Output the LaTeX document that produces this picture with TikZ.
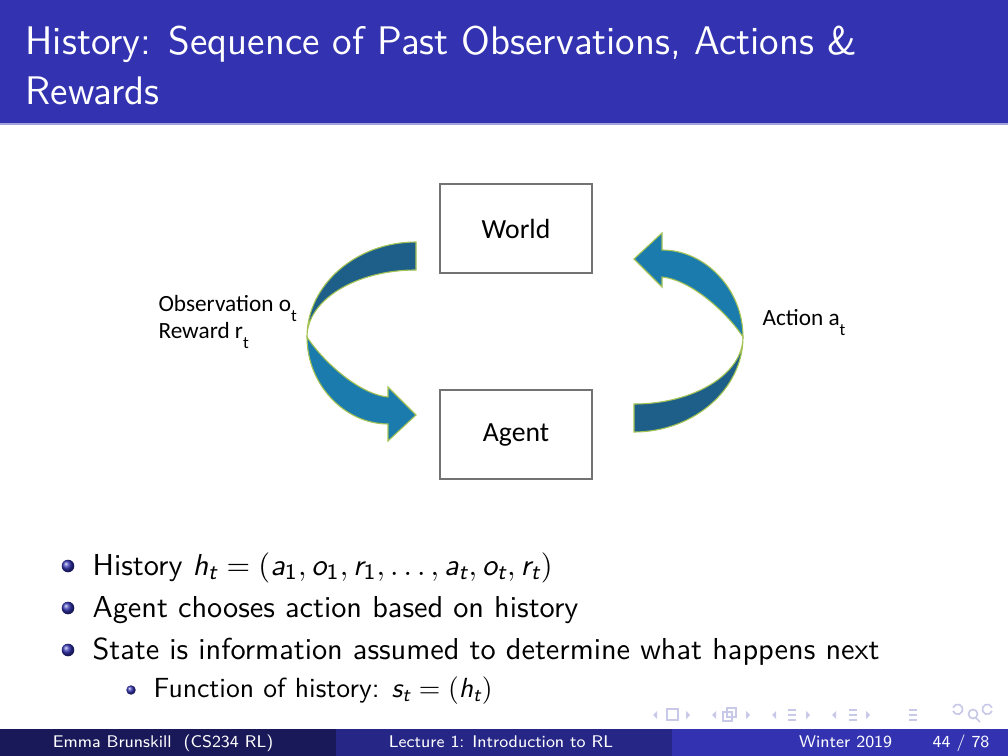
\documentclass[tikz,border=0pt]{standalone}
\usepackage{fontspec}
\usepackage{amsmath}
\usetikzlibrary{positioning, calc}
\newfontfamily\diafont{Carlito}
\definecolor{barblue}{RGB}{51,51,178}
\definecolor{footdark}{RGB}{25,25,89}
\definecolor{footmid}{RGB}{38,38,134}
\definecolor{swdark}{RGB}{29,95,136}
\definecolor{swlight}{RGB}{27,123,173}
\definecolor{swedge}{RGB}{165,195,85}
\definecolor{navgray}{RGB}{200,200,232}
\newcommand{\mv}[1]{\textsl{#1}}
\newcommand{\lsub}[1]{\raisebox{-0.9ex}{\fontsize{6.2}{7}\selectfont #1}}
\tikzstyle{box} = [rectangle, draw=black!55, line width=0.5pt, minimum width=19.3mm, minimum height=11.3mm, font=\diafont\fontsize{10}{12}\selectfont]
\tikzstyle{lbl} = [inner sep=0pt, font=\diafont\fontsize{8.4}{10}\selectfont]
\tikzstyle{titletext} = [inner sep=0pt, anchor=base west, text=white, font=\sffamily\fontsize{14.4}{18}\selectfont]
\tikzstyle{body} = [inner sep=0pt, anchor=base west, font=\sffamily\fontsize{10.95}{13.6}\selectfont]
\tikzstyle{subbody} = [body, font=\sffamily\fontsize{10}{12}\selectfont]
\tikzstyle{foot} = [inner sep=0pt, text=white, font=\sffamily\fontsize{6.1}{7}\selectfont]
\tikzstyle{bullet} = [circle, inner sep=0pt, minimum size=1.6mm, shade, ball color=barblue]
\tikzstyle{subbullet} = [bullet, minimum size=1.2mm]
\tikzstyle{swoosh} = [line width=0.4pt, draw=swedge]
\newcommand{\drawswoosh}{%
  \filldraw[swoosh, fill=swdark] (416,242) .. controls (356,242) and (307,285) .. (307,337)
    .. controls (307,300) and (356,270) .. (416,270) -- cycle;
  \filldraw[swoosh, fill=swlight] (307,337) .. controls (307,385) and (345,424) .. (388,424)
    -- (388,441) -- (416,415) -- (388,387) -- (388,397)
    .. controls (358,394) and (322,360) .. (307,337) -- cycle;}

\begin{document}
\begin{tikzpicture}[x=0.126984mm, y=-0.126984mm]
        \useasboundingbox (0,0) rectangle (1008,756);

        % Title bar
        \fill[barblue] (0,0) rectangle (1008,123);
        \fill[barblue!45] (0,123) rectangle (1008,125.5);
        \node (title1) [titletext] at (25,55) {History: Sequence of Past Observations, Actions \&};
        \node (title2) [titletext] at (25,105) {Rewards};

        % Boxes
        \node (world) [box] at (516,228.5) {World};
        \node (agent) [box, below=14.7mm of world] {Agent};

        % Labels
        \node (obs) [lbl, align=left, anchor=north west] at (158,294.5) {Observation o\lsub{t}\\Reward r\lsub{t}};
        \node (act) [lbl, anchor=base west] at (762,326) {Action a\lsub{t}};

        % Curved arrows
        \drawswoosh
        \begin{scope}[rotate around={180:(525,337)}]
            \drawswoosh
        \end{scope}

        % Bullet list
        \node (b1) [bullet] at (68,566) {};
        \node (item1) [body] at (92,575) {History $\mv{h}_{\mv{t}} = (\mv{a}_{\mathsf{1}}, \mv{o}_{\mathsf{1}}, \mv{r}_{\mathsf{1}}, \ldots, \mv{a}_{\mv{t}}, \mv{o}_{\mv{t}}, \mv{r}_{\mv{t}})$};
        \node (b2) [bullet] at (68,608) {};
        \node (item2) [body] at (92,617) {Agent chooses action based on history};
        \node (b3) [bullet] at (68,650) {};
        \node (item3) [body] at (92,659) {State is information assumed to determine what happens next};
        \node (b4) [subbullet] at (131,690) {};
        \node (item4) [subbody] at (153,697) {Function of history: $\mv{s}_{\mv{t}} = (\mv{h}_{\mv{t}})$};

        % Navigation symbols
        \foreach \x in {653,712,772,832} \fill[navgray] (\x,715) -- ++(4,-4) -- ++(0,8) -- cycle;
        \foreach \x in {690,750,810,870} \fill[navgray] (\x,715) -- ++(-4,-4) -- ++(0,8) -- cycle;
        \draw[navgray, line width=0.6pt] (667,709) rectangle (678,720);
        \draw[navgray, line width=0.6pt] (723,712) rectangle (732,721);
        \draw[navgray, line width=0.6pt] (727,708) rectangle (736,717);
        \foreach \x in {792,853,913} \foreach \dy in {-5,0,5} \draw[navgray, line width=0.6pt] (\x-4,715+\dy) -- (\x+4,715+\dy);
        \draw[navgray, line width=0.6pt] (953,711) arc (160:-160:5);
        \draw[navgray, line width=0.6pt] (973,714) circle (4.5) (976,718) -- (980,722);
        \draw[navgray, line width=0.6pt] (992,711) arc (20:340:5);

        % Footer
        \fill[footdark] (0,729) rectangle (336,756);
        \fill[footmid] (336,729) rectangle (672,756);
        \fill[barblue] (672,729) rectangle (1008,756);
        \node (author) [foot, anchor=base] at (163,747) {Emma Brunskill\ \ (CS234 RL)};
        \node (lecture) [foot, anchor=base] at (501,747) {Lecture 1: Introduction to RL};
        \node (date) [foot, anchor=base east] at (990,747) {Winter 2019\hspace{2.4em}44 / 78};

\end{tikzpicture}
\end{document}
